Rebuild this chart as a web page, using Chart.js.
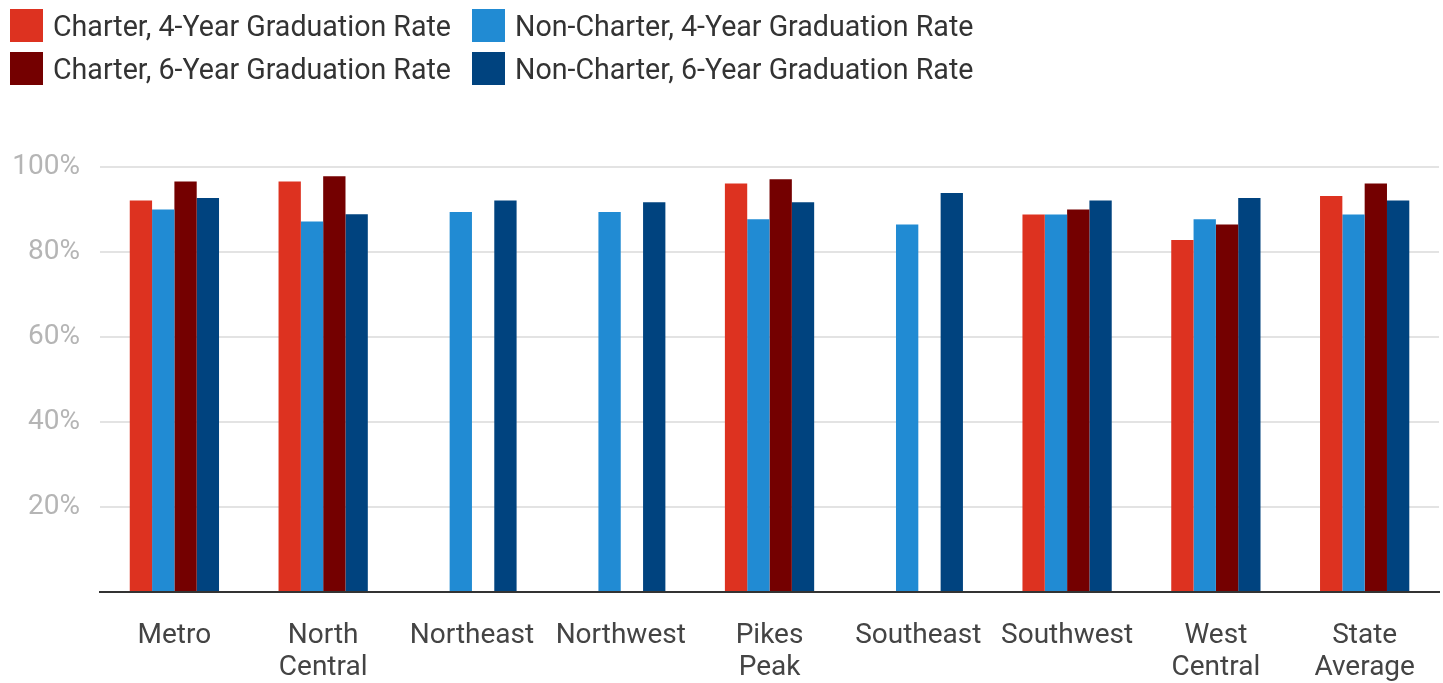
<!DOCTYPE html>
<html>
<head>
<meta charset="utf-8">
<script src="https://cdn.jsdelivr.net/npm/chart.js@4"></script>
<style>
  html, body { margin: 0; padding: 0; background: #fff; }
  body { width: 1443px; height: 683px; position: relative; overflow: hidden; font-family: Roboto, sans-serif; }
  #legend { position: absolute; left: 10px; top: 9px; display: grid; grid-template-columns: 462px auto; row-gap: 10px; }
  .item { display: flex; align-items: center; height: 33px; font-size: 28.6px; color: #333; white-space: nowrap; }
  .swatch { width: 33px; height: 33px; margin-right: 10px; flex: none; }
  #wrap { position: absolute; left: 0; top: 0; width: 1443px; height: 683px; }
</style>
</head>
<body>
<div id="wrap"><canvas id="myChart" width="1443" height="683"></canvas></div>
<div id="legend"></div>
<script>
const regions = ['Metro', ['North', 'Central'], 'Northeast', 'Northwest', ['Pikes', 'Peak'],
    'Southeast', 'Southwest', ['West', 'Central'], ['State', 'Average']];

const charter4 = [92.1, 96.6, null, null, 96.1, null, 88.8, 82.8, 93.2];
const nonCharter4 = [90.0, 87.2, 89.4, 89.4, 87.7, 86.5, 88.8, 87.7, 88.8];
const charter6 = [96.6, 97.8, null, null, 97.1, null, 90.0, 86.5, 96.1];
const nonCharter6 = [92.7, 88.9, 92.1, 91.7, 91.7, 93.9, 92.1, 92.7, 92.1];

const seriesNames = ['Charter, 4-Year Graduation Rate', 'Non-Charter, 4-Year Graduation Rate',
    'Charter, 6-Year Graduation Rate', 'Non-Charter, 6-Year Graduation Rate'];
const seriesColors = ['#dd3220', '#218bd3', '#740000', '#00437f'];

// legend in 2 columns like the original
const legendEl = document.getElementById('legend');
seriesNames.forEach((name, i) => {
    const d = document.createElement('div');
    d.className = 'item';
    d.innerHTML = '<span class="swatch" style="background:' + seriesColors[i] + '"></span>' + name;
    legendEl.appendChild(d);
});

const allData = [charter4, nonCharter4, charter6, nonCharter6];

new Chart(document.getElementById('myChart'), {
    type: 'bar',
    data: {
        labels: regions,
        datasets: allData.map((vals, i) => ({
            label: seriesNames[i],
            data: vals,
            backgroundColor: seriesColors[i],
            borderWidth: 0,
            categoryPercentage: 0.6,
            barPercentage: 1.0
        }))
    },
    options: {
        responsive: false,
        animation: false,
        layout: { padding: { top: 167, right: 1, left: 0, bottom: 0 } },
        plugins: {
            legend: { display: false },
            tooltip: { enabled: false }
        },
        scales: {
            x: {
                grid: { display: false, drawTicks: false },
                border: { display: true, color: '#333', width: 2 },
                ticks: {
                    color: '#444',
                    font: { family: 'Roboto', size: 28, lineHeight: 1.15 },
                    padding: 28,
                    maxRotation: 0,
                    autoSkip: false
                },
                afterFit: (s) => { s.height = 91; }
            },
            y: {
                min: 0,
                max: 100,
                grid: { color: '#e3e3e3', lineWidth: 2, drawTicks: false },
                border: { display: false },
                ticks: {
                    stepSize: 20,
                    color: '#b5b5b5',
                    font: { family: 'Roboto', size: 28 },
                    padding: 20,
                    callback: (v) => v === 0 ? '' : v + '%'
                },
                afterFit: (s) => { s.width = 100; }
            }
        }
    }
});
</script>
</body>
</html>
